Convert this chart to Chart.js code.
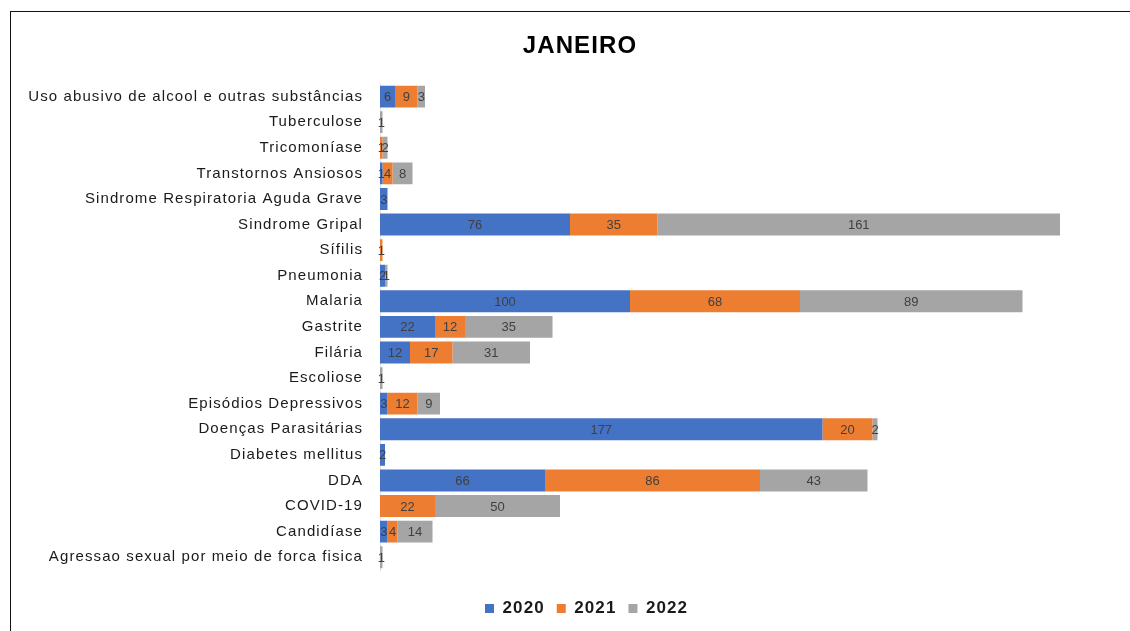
<!DOCTYPE html>
<html lang="pt">
<head>
<meta charset="UTF-8">
<title>Janeiro</title>
<script src="https://cdn.jsdelivr.net/npm/chart.js@4"></script>
<style>
  html, body { margin: 0; padding: 0; background: #fff; overflow: hidden; }
  .frame { position: absolute; left: 10px; top: 11px; width: 1300px; height: 800px; border: 1px solid #111; }
  .wrap { position: absolute; left: 0; top: 0; width: 1160px; height: 631px; }
</style>
</head>
<body>
<div class="frame"></div>
<div class="wrap"><canvas id="chart"></canvas></div>
<script>
// categories, top to bottom
const categories = [
  'Uso abusivo de alcool e outras substâncias',
  'Tuberculose',
  'Tricomoníase',
  'Transtornos Ansiosos',
  'Sindrome Respiratoria Aguda Grave',
  'Sindrome Gripal',
  'Sífilis',
  'Pneumonia',
  'Malaria',
  'Gastrite',
  'Filária',
  'Escoliose',
  'Episódios Depressivos',
  'Doenças Parasitárias',
  'Diabetes mellitus',
  'DDA',
  'COVID-19',
  'Candidíase',
  'Agressao sexual por meio de forca fisica'
];
const years = ['2020', '2021', '2022'];
const values2020 = [6, 0, 0, 1, 3, 76, 0, 2, 100, 22, 12, 0, 3, 177, 2, 66, 0, 3, 0];
const values2021 = [9, 0, 1, 4, 0, 35, 1, 0, 68, 12, 17, 0, 12, 20, 0, 86, 22, 4, 0];
const values2022 = [3, 1, 2, 8, 0, 161, 0, 1, 89, 35, 31, 1, 9, 2, 0, 43, 50, 14, 1];
const colors = ['#4472C4', '#ED7D31', '#A5A5A5'];

// the source text is a little wider than Arial, so space it out
const spacing = {
  id: 'spacing',
  beforeDraw(chart) { chart.ctx.letterSpacing = '1.1px'; },
  beforeDatasetsDraw(chart) { chart.ctx.letterSpacing = '0px'; }
};

// value labels centred in each segment
const barLabels = {
  id: 'barLabels',
  afterDatasetsDraw(chart) {
    const ctx = chart.ctx;
    ctx.save();
    ctx.font = '13px "Liberation Sans", Arial, sans-serif';
    ctx.fillStyle = '#404040';
    ctx.textAlign = 'center';
    ctx.textBaseline = 'middle';
    chart.data.datasets.forEach((ds, i) => {
      const meta = chart.getDatasetMeta(i);
      meta.data.forEach((bar, j) => {
        const v = ds.data[j];
        if (!v) return;
        const p = bar.getProps(['x', 'y', 'base'], true);
        ctx.fillText(String(v), (p.x + p.base) / 2, p.y + 1);
      });
    });
    ctx.restore();
  }
};

new Chart(document.getElementById('chart'), {
  type: 'bar',
  data: {
    labels: categories,
    datasets: [
      { label: years[0], data: values2020, backgroundColor: colors[0] },
      { label: years[1], data: values2021, backgroundColor: colors[1] },
      { label: years[2], data: values2022, backgroundColor: colors[2] }
    ]
  },
  options: {
    indexAxis: 'y',
    responsive: true,
    maintainAspectRatio: false,
    animation: false,
    layout: { padding: { top: 0, right: 0, bottom: 4, left: 0 } },
    datasets: { bar: { categoryPercentage: 0.9, barPercentage: 0.95, borderWidth: 0 } },
    scales: {
      x: {
        stacked: true,
        min: 0,
        max: 312,
        grid: { display: false },
        border: { display: false },
        ticks: { display: false },
        afterFit(s) { s.height = 18; }
      },
      y: {
        stacked: true,
        grid: { display: false },
        border: { display: true, color: '#e4e4e4' },
        ticks: {
          padding: 9,
          color: '#1a1a1a',
          font: { family: '"Liberation Sans", Arial, sans-serif', size: 15 }
        },
        afterFit(s) { s.width = 380; }
      }
    },
    plugins: {
      title: {
        display: true,
        text: 'JANEIRO',
        color: '#000',
        font: { family: '"Liberation Sans", Arial, sans-serif', size: 24, weight: 'bold' },
        padding: { top: 32, bottom: 23 }
      },
      legend: {
        position: 'bottom',
        labels: {
          boxWidth: 9,
          boxHeight: 9,
          padding: 12,
          color: '#1a1a1a',
          font: { family: '"Liberation Sans", Arial, sans-serif', size: 17, weight: 'bold' }
        }
      },
      tooltip: { enabled: false }
    }
  },
  plugins: [spacing, barLabels]
});
</script>
</body>
</html>
